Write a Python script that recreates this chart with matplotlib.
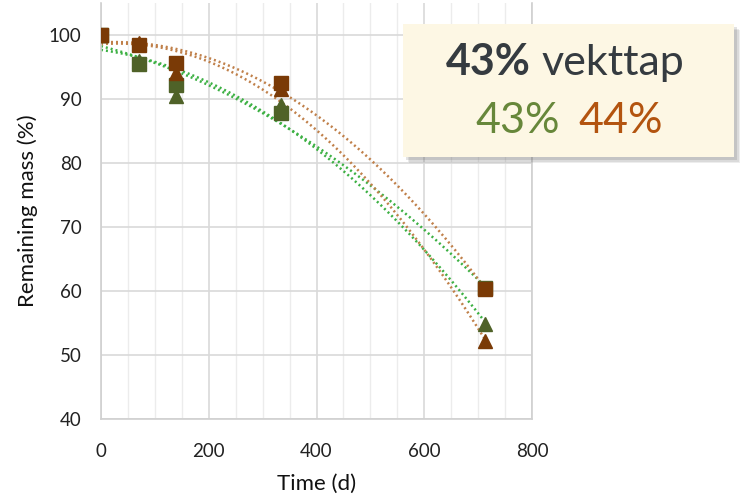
import numpy as np
import matplotlib
matplotlib.use("Agg")
import matplotlib.pyplot as plt
from matplotlib.patches import Rectangle
from matplotlib.ticker import MultipleLocator

plt.rcParams['font.family'] = ['Lato', 'DejaVu Sans']

# Remaining mass over time, two treatments (green / brown), two sample types each
days = [0, 70, 140, 335, 712]
green_sq = [100, 95.5, 92.2, 87.8, 60.5]
green_tri = [100, 96.0, 90.5, 89.0, 54.8]
brown_sq = [100, 98.5, 95.7, 92.5, 60.3]
brown_tri = [100, 98.8, 94.0, 91.6, 52.2]

loss_total = "43%"
loss_green = "43%"
loss_brown = "44%"

W, H = 743, 498
fig = plt.figure(figsize=(W / 100, H / 100), dpi=100)
ax = fig.add_axes([101 / W, 1 - 419 / H, 431 / W, 416 / H])

green_mk = '#4f6228'
brown_mk = '#7a3a06'
green_ln = '#3cb043'
brown_ln = '#c0804a'

x = np.array(days, dtype=float)
xs = np.linspace(0, max(days), 200)
series = [
    (green_sq, 's', green_mk, green_ln),
    (green_tri, '^', green_mk, green_ln),
    (brown_sq, 's', brown_mk, brown_ln),
    (brown_tri, '^', brown_mk, brown_ln),
]

# second order trendlines
for vals, mk, mc, lc in series:
    coef = np.polyfit(x, vals, 2)
    ax.plot(xs, np.polyval(coef, xs), color=lc, lw=1.8,
            linestyle=(0, (0.8, 1.2)), zorder=2)

for vals, mk, mc, lc in series:
    ax.plot(days, vals, linestyle='none', marker=mk, markersize=10,
            color=mc, markeredgecolor=mc, zorder=3)

ax.set_xlim(0, 800)
ax.set_ylim(40, 105)
ax.xaxis.set_major_locator(MultipleLocator(200))
ax.xaxis.set_minor_locator(MultipleLocator(50))
ax.set_yticks([40, 50, 60, 70, 80, 90, 100])
ax.grid(which='major', color='#d9d9d9', lw=1.2)
ax.grid(which='minor', axis='x', color='#ececec', lw=1.0)
ax.set_axisbelow(True)
for s in ['left', 'bottom', 'right']:
    ax.spines[s].set_color('#d0d0d0')
    ax.spines[s].set_linewidth(1.2)
ax.spines['top'].set_visible(False)
ax.tick_params(which='both', length=0, labelsize=13.5, colors='#222222')
ax.tick_params(axis='x', pad=17)
ax.tick_params(axis='y', pad=14)
ax.set_xlabel('Time (d)', fontsize=16, color='#111111', labelpad=10)
ax.set_ylabel('Remaining mass (%)', fontsize=16, color='#111111', labelpad=8)

# summary box with drop shadow
def fx(px):
    return px / W

def fy(py):
    return 1 - py / H

bx0, by0, bx1, by1 = 403, 24, 734, 157
for i, a in enumerate([0.10, 0.12, 0.16]):
    off = 6 - i * 1.5
    fig.patches.append(Rectangle((fx(bx0 + off), fy(by1 + off)),
                                 (bx1 - bx0) / W, (by1 - by0) / H,
                                 transform=fig.transFigure, facecolor='#555555',
                                 alpha=a, edgecolor='none', zorder=5))
fig.patches.append(Rectangle((fx(bx0), fy(by1)), (bx1 - bx0) / W, (by1 - by0) / H,
                             transform=fig.transFigure, facecolor='#fdf7e4',
                             edgecolor='none', zorder=6))

fig.text(fx(531), fy(75), loss_total, ha='right', va='baseline', fontsize=31,
         fontweight='bold', color='#353b40', zorder=7)
fig.text(fx(541), fy(75), 'vekttap', ha='left', va='baseline', fontsize=31,
         color='#353b40', zorder=7)
fig.text(fx(560), fy(133), loss_green, ha='right', va='baseline', fontsize=31,
         color='#67873a', zorder=7)
fig.text(fx(578), fy(133), loss_brown, ha='left', va='baseline', fontsize=31,
         color='#b3540f', zorder=7)

fig.savefig('out.png', dpi=100)
